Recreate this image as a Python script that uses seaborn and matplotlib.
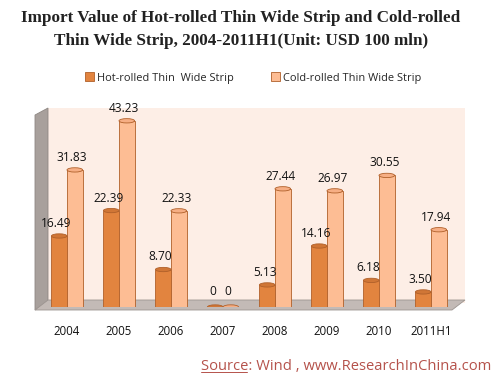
import pandas as pd
import matplotlib.pyplot as plt
import seaborn as sns
from matplotlib.patches import Ellipse, Polygon, Rectangle

years = ["2004", "2005", "2006", "2007", "2008", "2009", "2010", "2011H1"]
hot = [16.49, 22.39, 8.70, 0, 5.13, 14.16, 6.18, 3.50]
cold = [31.83, 43.23, 22.33, 0, 27.44, 26.97, 30.55, 17.94]
series = ["Hot-rolled Thin  Wide Strip", "Cold-rolled Thin Wide Strip"]

df = pd.DataFrame({
    "Year": years * 2,
    "Value": hot + cold,
    "Type": [series[0]] * len(years) + [series[1]] * len(years),
})

sns.set_style("white")
plt.rcParams["font.family"] = ["Open Sans", "DejaVu Sans"]

W, H = 499, 379
fig = plt.figure(figsize=(W / 100, H / 100), dpi=100)

def fx(px):
    return px / W

def fy(py):
    return 1 - py / H

# 3d-ish walls and floor (decoration, behind the axes)
fig.patches.append(Rectangle((fx(48), fy(303)), fx(465) - fx(48), fy(108) - fy(303),
                             transform=fig.transFigure, facecolor="#FDEEE6", edgecolor="none", zorder=-5))
fig.patches.append(Polygon([(fx(35), fy(310)), (fx(48), fy(303)), (fx(48), fy(108)), (fx(35), fy(115))],
                           closed=True, transform=fig.transFigure, facecolor="#A8A09C", edgecolor="#8E8783", lw=0.6, zorder=-5))
fig.patches.append(Polygon([(fx(35), fy(310)), (fx(452), fy(310)), (fx(465), fy(300)), (fx(48), fy(300))],
                           closed=True, transform=fig.transFigure, facecolor="#C3BAB6", edgecolor="#9C9490", lw=0.6, zorder=-5))

ax = fig.add_axes([fx(41), fy(307), fx(457) - fx(41), fy(108) - fy(307)])
ax.patch.set_alpha(0)

palette = ["#E2843F", "#FDBD94"]
sns.barplot(data=df, x="Year", y="Value", hue="Type", palette=palette, width=0.6,
            edgecolor="#B0602A", linewidth=0.6, saturation=1, ax=ax, legend=True)

ax.set_xlim(-0.5, 7.5)
ax.set_ylim(0, 46.2)

cap_h = 1.0
for bars, col in zip(ax.containers, ["#D07636", "#F6AE84"]):
    vals = bars.datavalues
    for p, v in zip(bars.patches, vals):
        x0, w, top = p.get_x(), p.get_width(), p.get_height()
        e = Ellipse((x0 + w / 2, top), w, cap_h, facecolor=col, edgecolor="#B0602A", lw=0.6, zorder=3)
        ax.add_patch(e)
        lab = "0" if v == 0 else f"{v:.2f}"
        off = 2.2 if v == 0 else 1.4
        ax.text(x0 + w / 2 - 0.05, top + off, lab, ha="center", va="bottom", fontsize=8.6, color="#111111")

ax.set_xlabel("")
ax.set_ylabel("")
ax.set_yticks([])
ax.tick_params(axis="x", length=0, pad=13, labelsize=8.3, labelcolor="#111111")
sns.despine(ax=ax, left=True, bottom=True)

ax.legend(loc="center", bbox_to_anchor=(fx(253), fy(78)), bbox_transform=fig.transFigure,
          ncol=2, frameon=False, fontsize=7.9, handlelength=0.8, handleheight=0.8,
          columnspacing=3.4, handletextpad=0.3)

fig.text(fx(241), fy(18), "Import Value of Hot-rolled Thin Wide Strip and Cold-rolled",
         ha="center", va="center", fontsize=12.3, fontweight="bold", family="Liberation Serif", color="#222222")
fig.text(fx(241), fy(41), "Thin Wide Strip, 2004-2011H1(Unit: USD 100 mln)",
         ha="center", va="center", fontsize=12.3, fontweight="bold", family="Liberation Serif", color="#222222")

src = fig.text(fx(491), fy(366), "Source: Wind , www.ResearchInChina.com", ha="right", va="center",
               fontsize=10.6, color="#B5524B")
fig.canvas.draw()
bb = src.get_window_extent()
x_left = bb.x0 / W
fig.add_artist(plt.Line2D([x_left, x_left + fx(46)], [fy(372), fy(372)],
                          transform=fig.transFigure, color="#B5524B", lw=0.7))

fig.savefig("out.png", dpi=100)
